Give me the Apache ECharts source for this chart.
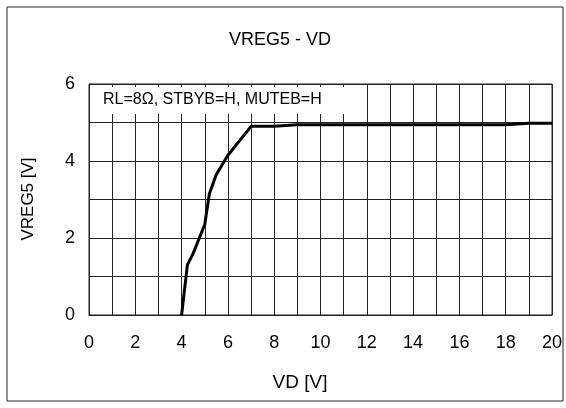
<!DOCTYPE html>
<html>
<head>
<meta charset="utf-8">
<script src="https://cdn.jsdelivr.net/npm/echarts@6/dist/echarts.min.js"></script>
<style>
  html, body { margin: 0; padding: 0; background: #fff; }
  #chart { width: 566px; height: 408px; }
</style>
</head>
<body>
<div id="chart"></div>
<script>
// VD [V] vs VREG5 [V]
const vd = [4, 4.25, 4.5, 5, 5.2, 5.5, 6, 7, 8, 9, 10, 11, 12, 13, 14, 15, 16, 17, 18, 19, 20];
const vreg5 = [0, 1.3, 1.6, 2.35, 3.15, 3.65, 4.15, 4.9, 4.9, 4.94, 4.94, 4.94, 4.94, 4.94, 4.94, 4.94, 4.94, 4.94, 4.94, 4.98, 4.98];

const chart = echarts.init(document.getElementById("chart"));
const font = "Liberation Sans, Arial, sans-serif";

const option = {
  backgroundColor: "#fff",
  animation: false,
  textStyle: { fontFamily: font },
  grid: {
    left: 89, right: 14, top: 84, bottom: 93,
    show: true, borderColor: "#222", borderWidth: 1
  },
  xAxis: {
    type: "value",
    min: 0, max: 20, interval: 1,
    axisLine: { show: true, lineStyle: { color: "#222" } },
    axisTick: { show: false },
    splitLine: { show: true, lineStyle: { color: "#222", width: 1 } },
    axisLabel: {
      color: "#000", fontSize: 18, margin: 19, fontFamily: font,
      formatter: (v) => (v % 2 === 0 ? String(v) : "")
    }
  },
  yAxis: {
    type: "value",
    min: 0, max: 6, interval: 1,
    axisLine: { show: true, lineStyle: { color: "#222" } },
    axisTick: { show: false },
    splitLine: { show: true, lineStyle: { color: "#222", width: 1 } },
    axisLabel: {
      color: "#000", fontSize: 18, margin: 14, fontFamily: font,
      formatter: (v) => (v % 2 === 0 ? String(v) : "")
    }
  },
  series: [{
    type: "line",
    data: vd.map((x, i) => [x, vreg5[i]]),
    showSymbol: false,
    lineStyle: { color: "#000", width: 3 },
    z: 3
  }],
  graphic: [
    // outer frame
    { type: "rect", shape: { x: 7, y: 7, width: 556, height: 394 },
      style: { fill: null, stroke: "#222", lineWidth: 1 }, z: 10 },
    // title
    { type: "text", x: 280, y: 40,
      style: { text: "VREG5 - VD", font: "18px " + font, fill: "#000", textAlign: "center", textVerticalAlign: "middle" } },
    // condition note with white backing
    { type: "rect", shape: { x: 90, y: 87, width: 264, height: 27 },
      style: { fill: "#fff" }, z: 5 },
    { type: "text", x: 103, y: 100,
      style: { text: "RL=8Ω, STBYB=H, MUTEB=H", font: "16px " + font, fill: "#000", textVerticalAlign: "middle" }, z: 6 },
    // axis names
    { type: "text", x: 300, y: 383,
      style: { text: "VD [V]", font: "19px " + font, fill: "#000", textAlign: "center", textVerticalAlign: "middle" } },
    { type: "text", x: 28, y: 199, rotation: Math.PI / 2,
      style: { text: "VREG5 [V]", font: "17px " + font, fill: "#000", textAlign: "center", textVerticalAlign: "middle" } }
  ]
};

chart.setOption(option);
</script>
</body>
</html>
